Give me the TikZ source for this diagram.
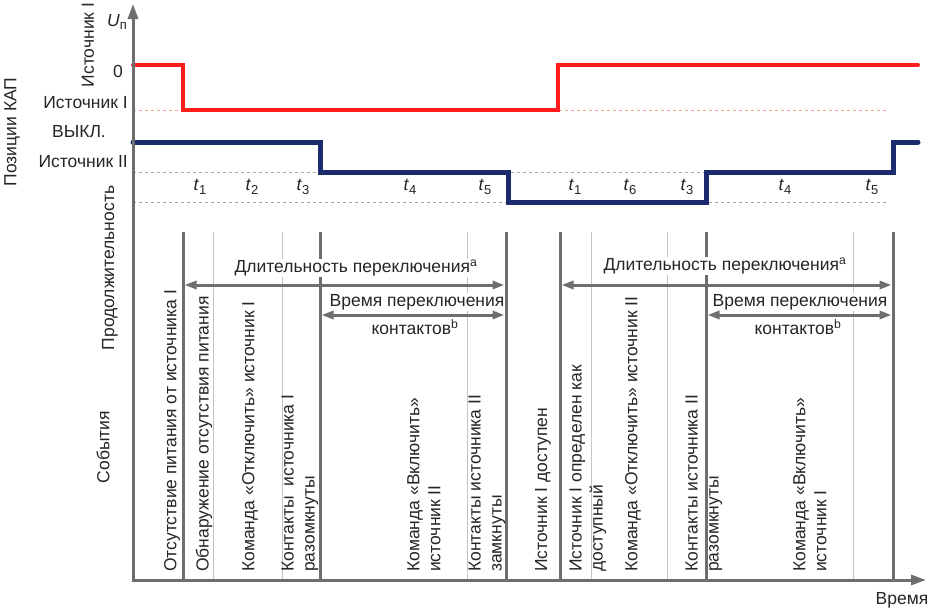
\documentclass[tikz,border=0pt]{standalone}
\usepackage{fontspec}
\setmainfont{Liberation Sans}
\usetikzlibrary{arrows.meta}
\definecolor{redl}{HTML}{FF1C1C}
\definecolor{bluel}{HTML}{1C2A6E}
\definecolor{axg}{HTML}{6E6E6E}
\definecolor{thg}{HTML}{C4C4C4}
\definecolor{dsh}{HTML}{A8A8A8}
\definecolor{rdsh}{HTML}{F6A898}
\definecolor{txt}{HTML}{262626}
\newcommand{\tsub}[2]{\textit{#1}\raisebox{-0.4ex}{\fontsize{13}{13}\selectfont #2}}
\begin{document}
\begin{tikzpicture}[x=1pt,y=-1pt,
  lbl/.style={font=\fontsize{17.5}{21}\selectfont, text=txt, inner sep=0pt},
  ev/.style={lbl, rotate=90, anchor=west, align=left},
  dimtext/.style={lbl, fill=white, inner sep=1pt},
  gline/.style={draw=axg, line width=3pt},
  tline/.style={draw=thg, line width=1pt},
  dline/.style={draw=dsh, line width=1pt, dash pattern=on 3pt off 3pt},
  rdline/.style={draw=rdsh, line width=1pt, dash pattern=on 3pt off 3pt},
  tip/.style={Triangle[length=12pt,width=8pt]},
  dimarrow/.style={draw=axg, line width=3pt, {Triangle[length=12pt,width=8pt]}-{Triangle[length=12pt,width=8pt]}}
]
\useasboundingbox (0,0) rectangle (930,613);
\fill[white] (0,0) rectangle (930,613);

% dashed reference levels
\draw[rdline] (133,110) -- (887,110);
\draw[dline] (133,172) -- (887,172);
\draw[dline] (133,202) -- (887,202);

% signals
\draw[redl, line width=4pt, line cap=round] (133,65) -- (183,65) -- (183,110) -- (558,110) -- (558,65) -- (918,65);
\draw[bluel, line width=5pt, line cap=round] (133,142) -- (320,142) -- (320,172) -- (508,172) -- (508,202) -- (706,202) -- (706,172) -- (893,172) -- (893,142) -- (918,142);

% event grid lines
\foreach \xx in {213,282,467,591,667,853} \draw[tline] (\xx,232) -- (\xx,580);
\foreach \xx in {183,320,506,560,706,893} \draw[gline] (\xx,232) -- (\xx,580);

% axes
\draw[axg, line width=3pt, -{Triangle[length=15pt,width=10pt]}] (133,581.5) -- (133,4);
\draw[axg, line width=3pt, -{Triangle[length=15pt,width=10pt]}] (131.5,580) -- (926,580);

% dimension texts
\node[dimtext] (d1) at (356,268) {Длительность переключения\textsuperscript{a}};
\node[dimtext] (d2) at (725,266) {Длительность переключения\textsuperscript{a}};
\node[dimtext] (v1) at (417,302) {Время переключения};
\node[dimtext] (v2) at (800,302) {Время переключения};
\node[dimtext] (k1) at (415,327) {контактов\textsuperscript{b}};
\node[dimtext] (k2) at (798,327) {контактов\textsuperscript{b}};

% dimension arrows
\coordinate (a1l) at (184.5,285); \coordinate (a1r) at (504.5,285);
\coordinate (a2l) at (561.5,285); \coordinate (a2r) at (891.5,285);
\coordinate (b1l) at (321.5,315); \coordinate (b1r) at (504.5,315);
\coordinate (b2l) at (707.5,315); \coordinate (b2r) at (891.5,315);
\draw[dimarrow] (a1l) -- (a1r);
\draw[dimarrow] (a2l) -- (a2r);
\draw[dimarrow] (b1l) -- (b1r);
\draw[dimarrow] (b2l) -- (b2r);

% left labels
\node[lbl, rotate=90] (srcI) at (88,45) {Источник I};
\node[lbl] (un) at (117,22) {\tsub{U}{п}};
\node[lbl] (zero) at (118,71) {0};
\node[lbl, anchor=east] (l1) at (128,103) {Источник I};
\node[lbl] (off) at (79,132) {ВЫКЛ.};
\node[lbl, anchor=east] (l2) at (128,162) {Источник II};
\node[lbl, rotate=90] (pos) at (12,132) {Позиции КАП};
\node[lbl, rotate=90] (dur) at (110,268) {Продолжительность};
\node[lbl, rotate=90] (evts) at (103,447) {События};
\node[lbl] (time) at (902,600) {Время};

% time labels
\node[lbl] (t1a) at (200,187) {\tsub{t}{1}};
\node[lbl] (t2a) at (252,187) {\tsub{t}{2}};
\node[lbl] (t3a) at (303,187) {\tsub{t}{3}};
\node[lbl] (t4a) at (410,187) {\tsub{t}{4}};
\node[lbl] (t5a) at (485,187) {\tsub{t}{5}};
\node[lbl] (t1b) at (575,187) {\tsub{t}{1}};
\node[lbl] (t6b) at (630,187) {\tsub{t}{6}};
\node[lbl] (t3b) at (687,187) {\tsub{t}{3}};
\node[lbl] (t4b) at (785,187) {\tsub{t}{4}};
\node[lbl] (t5b) at (872,187) {\tsub{t}{5}};

% events
\node[ev] (e1) at (172,572) {Отсутствие питания от источника I};
\node[ev] (e2) at (204,572) {Обнаружение отсутствия питания};
\node[ev] (e3) at (250,572) {Команда «Отключить» источник I};
\node[ev] (e4) at (300,572) {Контакты\ \ источника I\\разомкнуты};
\node[ev] (e5) at (424,572) {Команда «Включить»\\источник II};
\node[ev] (e6) at (487,572) {Контакты источника II\\замкнуты};
\node[ev] (e7) at (543,572) {Источник I доступен};
\node[ev] (e8) at (588,572) {Источник I определен как\\доступный};
\node[ev] (e9) at (633,572) {Команда «Отключить» источник II};
\node[ev] (e10) at (704,572) {Контакты источника II\\разомкнуты};
\node[ev] (e11) at (810,572) {Команда «Включить»\\источник I};
\end{tikzpicture}
\end{document}
